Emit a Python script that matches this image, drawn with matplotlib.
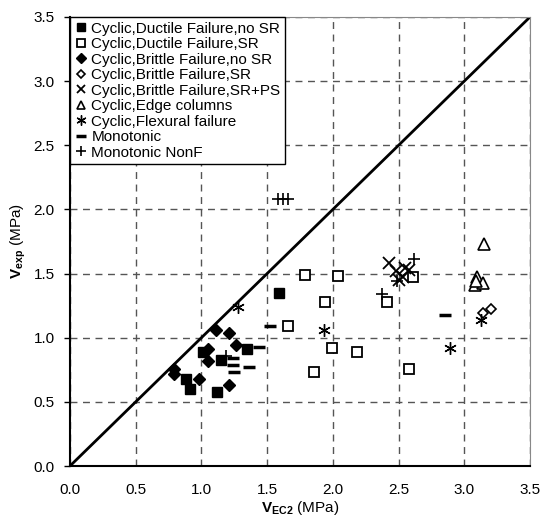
import matplotlib
matplotlib.use("Agg")
import matplotlib.pyplot as plt

plt.rcParams['font.family'] = ['Liberation Sans', 'DejaVu Sans']
plt.rcParams['mathtext.fontset'] = 'custom'
plt.rcParams['mathtext.bf'] = 'Liberation Sans:bold'
plt.rcParams['mathtext.rm'] = 'Liberation Sans'

# data (V_EC2, V_exp) in MPa
ductile_nosr_x = [1.01, 1.15, 1.35, 0.88, 0.91, 1.12, 1.59]
ductile_nosr_y = [0.89, 0.83, 0.91, 0.68, 0.60, 0.58, 1.35]

ductile_sr_x = [1.79, 2.04, 1.94, 1.66, 1.99, 2.18, 1.86, 2.58, 2.41, 2.61]
ductile_sr_y = [1.49, 1.48, 1.28, 1.09, 0.92, 0.89, 0.73, 0.76, 1.28, 1.47]

brittle_nosr_x = [0.79, 0.79, 0.98, 1.11, 1.21, 1.26, 1.05, 1.05, 1.21]
brittle_nosr_y = [0.76, 0.72, 0.68, 1.06, 1.04, 0.94, 0.91, 0.82, 0.63]

brittle_sr_x = [3.20, 3.14]
brittle_sr_y = [1.22, 1.19]

brittle_srps_x = [2.43, 2.48, 2.50, 2.55, 2.58, 2.53]
brittle_srps_y = [1.58, 1.52, 1.45, 1.54, 1.53, 1.47]

edge_x = [3.15, 3.10, 3.08, 3.14, 3.09]
edge_y = [1.73, 1.47, 1.41, 1.43, 1.44]

flex_x = [1.28, 1.93, 2.89, 3.13]
flex_y = [1.24, 1.06, 0.92, 1.14]

mono_x = [1.52, 1.44, 1.24, 1.24, 1.25, 1.36, 2.85]
mono_y = [1.09, 0.93, 0.84, 0.79, 0.73, 0.77, 1.18]

nonf_x = [1.58, 1.62, 1.66, 2.37, 2.62, 2.49, 1.19]
nonf_y = [2.08, 2.08, 2.08, 1.34, 1.61, 1.44, 0.86]

fig = plt.figure(figsize=(5.42, 5.29), dpi=100)
ax = fig.add_axes([0.129, 0.119, 0.849, 0.849])

# 1:1 line
ax.plot([0, 3.5], [0, 3.5], color='black', lw=2, zorder=2)

ax.plot(ductile_nosr_x, ductile_nosr_y, ls='none', marker='s', ms=7, mfc='black', mec='black',
        label='Cyclic,Ductile Failure,no SR')
ax.plot(ductile_sr_x, ductile_sr_y, ls='none', marker='s', ms=6.5, mfc='white', mec='black', mew=1.3,
        label='Cyclic,Ductile Failure,SR')
ax.plot(brittle_nosr_x, brittle_nosr_y, ls='none', marker='D', ms=6, mfc='black', mec='black',
        label='Cyclic,Brittle Failure,no SR')
ax.plot(brittle_sr_x, brittle_sr_y, ls='none', marker='D', ms=5.5, mfc='white', mec='black', mew=1.2,
        label='Cyclic,Brittle Failure,SR')
ax.plot(brittle_srps_x, brittle_srps_y, ls='none', marker='x', ms=8, mec='black', mew=1.3,
        label='Cyclic,Brittle Failure,SR+PS')
ax.plot(edge_x, edge_y, ls='none', marker='^', ms=8, mfc='white', mec='black', mew=1.2,
        label='Cyclic,Edge columns')
ax.plot(flex_x, flex_y, ls='none', marker=(6, 2, 0), ms=9, mec='black', mew=1.0,
        label='Cyclic,Flexural failure')
ax.plot(mono_x, mono_y, ls='none', marker='_', ms=9, mec='black', mew=2.5,
        label='Monotonic')
ax.plot(nonf_x, nonf_y, ls='none', marker='+', ms=9, mec='black', mew=1.2,
        label='Monotonic NonF')

ax.set_xlim(0, 3.5)
ax.set_ylim(0, 3.5)
ticks = [0.0, 0.5, 1.0, 1.5, 2.0, 2.5, 3.0, 3.5]
ax.set_xticks(ticks)
ax.set_yticks(ticks)
ax.set_xticklabels(['%.1f' % t for t in ticks], fontsize=11)
ax.set_yticklabels(['%.1f' % t for t in ticks], fontsize=11)
ax.grid(True, color='#555555', ls=(0, (5, 4)), lw=1)
ax.set_axisbelow(True)

for s in ['left', 'bottom']:
    ax.spines[s].set_linewidth(1.5)
for s in ['top', 'right']:
    ax.spines[s].set_color('#888888')
ax.tick_params(axis='y', direction='out', length=4, width=1, pad=7)
ax.tick_params(axis='x', length=0, pad=12)

ax.set_xlabel(r'$\mathbf{V_{EC2}}$ (MPa)', fontsize=11, labelpad=2)
ax.set_ylabel(r'$\mathbf{V_{exp}}$ (MPa)', fontsize=11, labelpad=4)

leg = ax.legend(loc='upper left', fontsize=11, frameon=True, fancybox=False,
                edgecolor='black', handlelength=0.8, handletextpad=0.3,
                labelspacing=0.1, borderpad=0.3, borderaxespad=0.0,
                framealpha=1, markerscale=0.8)
leg.get_frame().set_linewidth(1)

fig.savefig('out.png', dpi=100)
